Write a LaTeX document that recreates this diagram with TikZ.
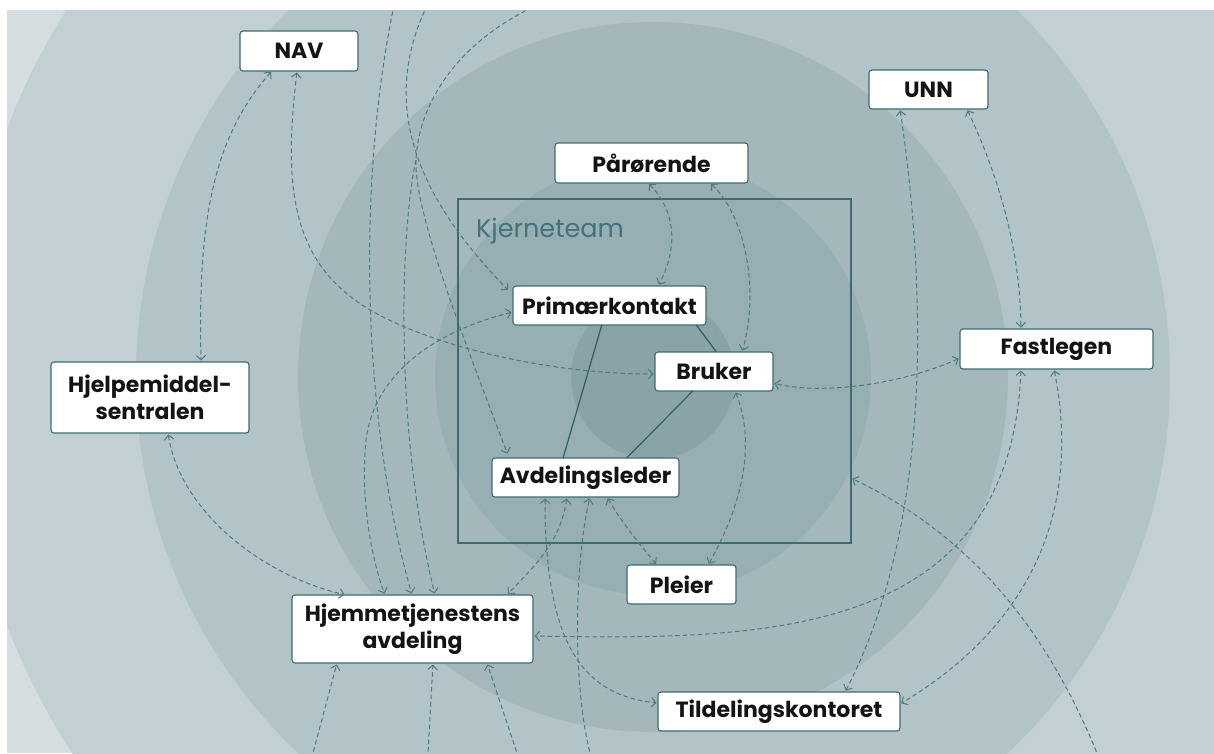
\documentclass[tikz,border=0pt]{standalone}
\usepackage{fontspec}
\setmainfont{Poppins}
\usetikzlibrary{arrows.meta,calc}

\definecolor{ring0}{HTML}{D4DEE0}
\definecolor{ring1}{HTML}{C2CFD3}
\definecolor{ring2}{HTML}{B3C4C8}
\definecolor{ring3}{HTML}{A4B8BC}
\definecolor{ring4}{HTML}{97AEB2}
\definecolor{ring5}{HTML}{89A3A7}
\definecolor{boxline}{HTML}{3E6B70}
\definecolor{tiec}{HTML}{2F5E63}
\definecolor{linkc}{HTML}{4C7A80}
\definecolor{labelc}{HTML}{44727A}

\newcommand\boxlabelfont{\fontsize{22}{27}\selectfont\bfseries}
\newcommand\teamfont{\fontsize{25.5}{30}\selectfont}

\pgfdeclarelayer{bg}
\pgfsetlayers{bg,main}

\begin{document}
\begin{tikzpicture}[x=1pt,y=-1pt,
  box/.style={draw=boxline, fill=white, rounded corners=3pt, line width=1.1pt,
    inner sep=0pt, outer sep=0pt, align=center, font=\boxlabelfont, text=black!92},
  teamframe/.style={draw=boxline, line width=1.2pt, inner sep=0pt, outer sep=0pt},
  tie/.style={draw=tiec, line width=1.2pt},
  link/.style={draw=linkc, line width=1pt, dash pattern=on 4.5pt off 3pt,
    shorten <=1.5pt, shorten >=1.5pt},
  >={Straight Barb[length=4.5pt,width=9.5pt]}]

\useasboundingbox (0,0) rectangle (1214,753);

% concentric rings behind everything
\begin{pgfonlayer}{bg}
  \fill[white] (0,0) rectangle (1214,753);
  \begin{scope}
    \clip (7,10) rectangle (1214,753);
    \fill[ring0] (7,10) rectangle (1214,753);
    \fill[ring1] (653,377) circle[radius=692];
    \fill[ring2] (653,377) circle[radius=517];
    \fill[ring3] (653,377) circle[radius=355];
    \fill[ring4] (653,377) circle[radius=218];
    \fill[ring5] (653,377) circle[radius=82];
  \end{scope}
\end{pgfonlayer}

% core team frame and its title
\node[teamframe, minimum width=393pt, minimum height=344pt] (kjerne) at (654.5,371) {};
\node[anchor=base west, text=labelc, font=\teamfont, inner sep=0pt] (kjlabel) at (476,237) {Kjerneteam};

% actors
\node[box, minimum width=118pt, minimum height=40pt] (nav) at (299,51) {NAV};
\node[box, minimum width=119pt, minimum height=39pt] (unn) at (928.5,89.5) {UNN};
\node[box, minimum width=193pt, minimum height=40pt] (par) at (651.5,163) {Pårørende};
\node[box, minimum width=193pt, minimum height=39pt] (prim) at (609.5,305.5) {Primærkontakt};
\node[box, minimum width=118pt, minimum height=39pt] (bru) at (714,371.5) {Bruker};
\node[box, minimum width=193pt, minimum height=40pt] (fast) at (1056.5,349) {Fastlegen};
\node[box, minimum width=198pt, minimum height=71pt] (hjelp) at (150,397.5) {Hjelpemiddel-\\sentralen};
\node[box, minimum width=187pt, minimum height=39pt] (avd) at (585.5,477.5) {Avdelingsleder};
\node[box, minimum width=109pt, minimum height=39pt] (pleier) at (681.5,584.5) {Pleier};
\node[box, minimum width=241pt, minimum height=68pt] (hjem) at (412.5,629) {Hjemmetjenestens\\avdeling};
\node[box, minimum width=242pt, minimum height=39pt] (tild) at (779,711.5) {Tildelingskontoret};

% loose ends of links leaving the picture, and the fork of the shared link
\coordinate (t1) at (393,10);
\coordinate (t2) at (425,10);
\coordinate (t3) at (527,10);
\coordinate (fork) at (416,160);
\coordinate (b1) at (313,753);
\coordinate (b2) at (428,753);
\coordinate (b3) at (517,753);
\coordinate (b4) at (590,753);
\coordinate (b5) at (1097,753);

% solid ties inside the core team
\draw[tie] ($(prim.south west)!0.46!(prim.south east)$) -- ($(avd.north west)!0.38!(avd.north east)$);
\draw[tie] ($(prim.south west)!0.95!(prim.south east)$) -- ($(bru.north west)!0.52!(bru.north east)$);
\draw[tie] ($(bru.south west)!0.32!(bru.south east)$) -- ($(avd.north west)!0.72!(avd.north east)$);

% dashed links
\draw[link,<->] ([xshift=-27pt]nav.south) .. controls (210,140) and (198,230) .. ([xshift=51pt]hjelp.north);
\draw[link,<->] ([xshift=-2pt]nav.south) .. controls (283,190) and (290,270) .. (383,317)
  .. controls (453,352) and (560,374) .. ([yshift=-2.5pt]bru.west);

\draw[link,->] (t1) .. controls (355,200) and (365,430) .. ([xshift=-0.5pt]hjem.north);
\draw[link,->] (t2) .. controls (380,110) and (420,200) .. ([xshift=-4pt,yshift=-5pt]prim.north west);
\draw[link,shorten >=0pt] (t3) .. controls (450,50) and (418,110) .. (fork);
\draw[link,->,shorten <=0pt] (fork) .. controls (414,210) and (460,330) .. ([xshift=16pt,yshift=3pt]avd.north west);
\draw[link,->,shorten <=0pt] (fork) .. controls (402,220) and (392,420) .. ([xshift=22.5pt]hjem.north);

\draw[link,<->] ([yshift=-6.5pt]prim.west) .. controls (440,330) and (375,370) .. (366,440)
  .. controls (360,500) and (372,560) .. ([xshift=-27.5pt]hjem.north);

\draw[link,<->] ([xshift=-3.5pt]par.south) .. controls (680,215) and (675,255) .. ([xshift=48.5pt]prim.north);
\draw[link,<->] ([xshift=58.5pt]par.south) .. controls (745,215) and (760,290) .. ([xshift=28pt]bru.north);

\draw[link,<->] ([xshift=-28.5pt]unn.south) .. controls (918,230) and (945,500) .. ([xshift=66pt]tild.north);
\draw[link,<->] ([xshift=38.5pt]unn.south) .. controls (1000,180) and (1020,250) .. ([xshift=-35.5pt]fast.north);

\draw[link,<->] ([yshift=-9pt]fast.west) .. controls (900,385) and (820,395) .. ([yshift=-11.5pt]bru.east);
\draw[link,<->] ([xshift=-35.5pt]fast.south) .. controls (1010,640) and (760,640) .. ([yshift=-7pt]hjem.east);
\draw[link,<->] ([xshift=-2.5pt]fast.south) .. controls (1080,500) and (1040,620) .. ([yshift=7.5pt]tild.east);

\draw[link,->] (b5) .. controls (1050,640) and (980,540) .. ([yshift=65pt]kjerne.south east);

\draw[link,<->] ([xshift=21pt]bru.south) .. controls (755,440) and (745,500) .. ([xshift=26.5pt]pleier.north);
\draw[link,<->] ([xshift=21.5pt]avd.south) .. controls (620,520) and (640,545) .. ([xshift=-24.5pt]pleier.north);
\draw[link,<->] ([xshift=-18.5pt]avd.south) .. controls (560,545) and (530,570) .. ([xshift=94.5pt]hjem.north);
\draw[link,<->] ([xshift=-40.5pt]avd.south) .. controls (545,640) and (580,695) .. ([yshift=8.5pt]tild.west);
\draw[link,->] (b4) .. controls (572,680) and (575,560) .. ([xshift=4.5pt]avd.south);

\draw[link,->] (b1) -- ([xshift=-75.5pt]hjem.south);
\draw[link,->] (b2) -- ([xshift=20.5pt]hjem.south);
\draw[link,->] (b3) -- ([xshift=74.5pt]hjem.south);

\draw[link,<->] ([xshift=18pt]hjelp.south) .. controls (180,510) and (260,575) .. ([xshift=-66.5pt]hjem.north);

\end{tikzpicture}
\end{document}
